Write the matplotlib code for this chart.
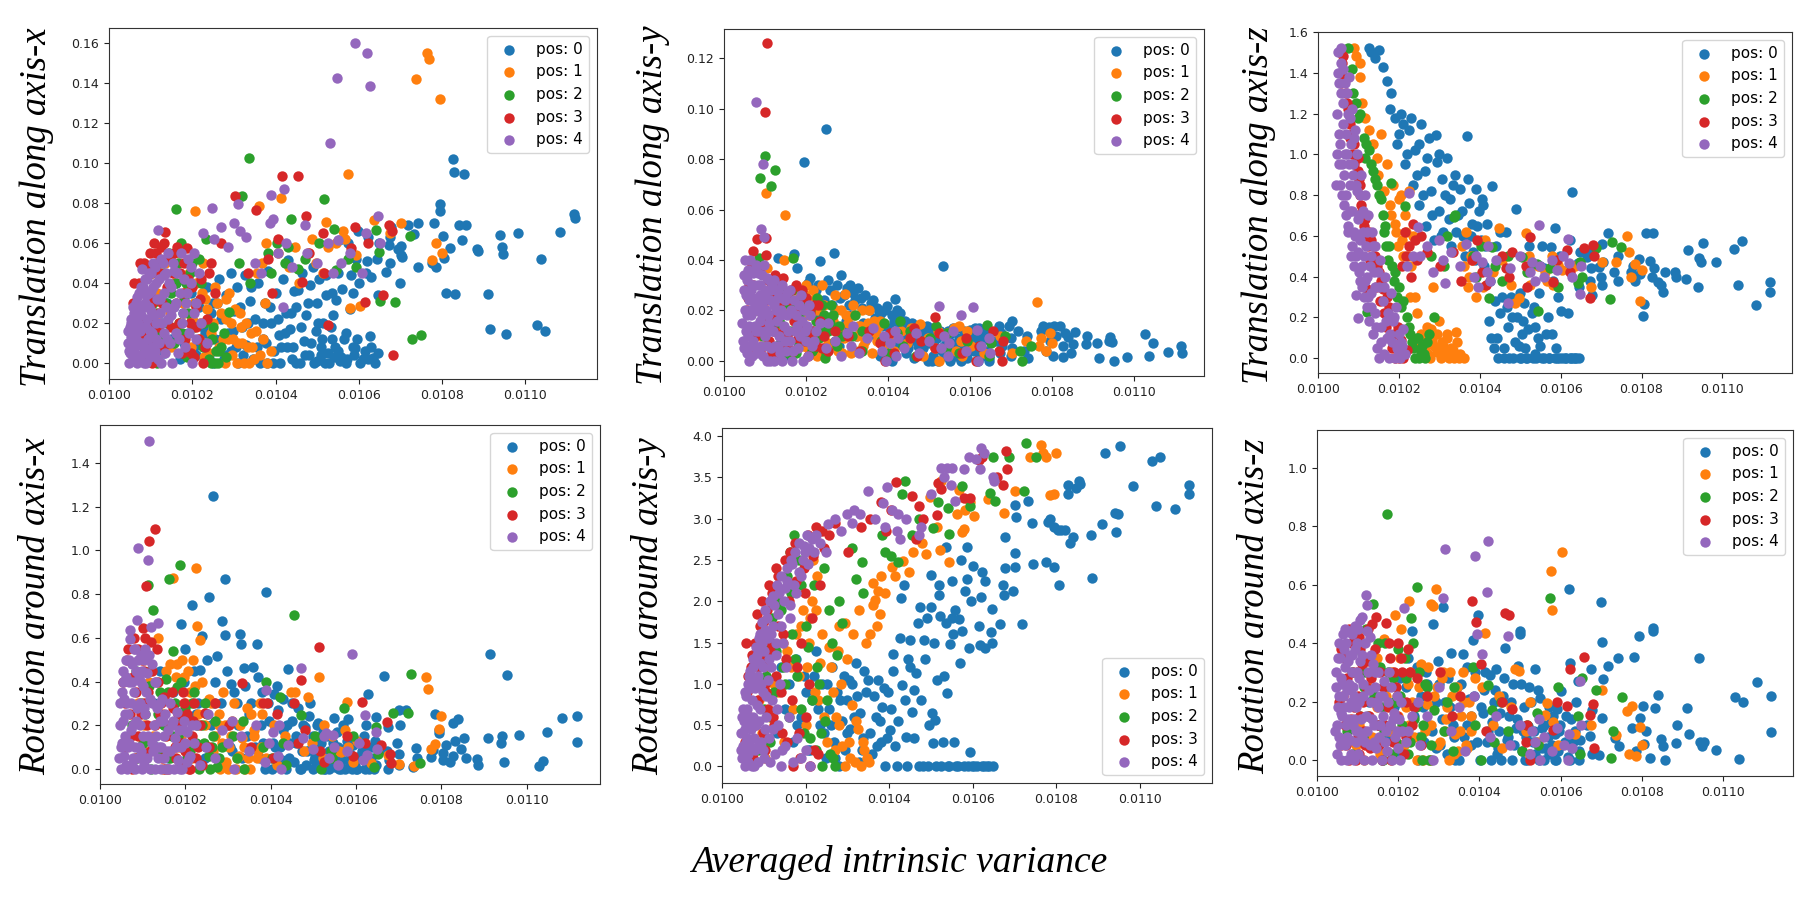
import matplotlib
matplotlib.use("Agg")
import matplotlib.pyplot as plt
from matplotlib.ticker import MultipleLocator, FormatStrFormatter

# -- averaged intrinsic variance of each sample, per camera position (same samples in all panels) --
var_pos0 = [0.010127, 0.010132, 0.010140, 0.010150, 0.010160, 0.010170, 0.010178, 0.010190, 0.010196, 0.010205,
            0.010215, 0.010225, 0.010235, 0.010240, 0.010249, 0.010255, 0.010264, 0.010268, 0.010275, 0.010280,
            0.010286, 0.010292, 0.010294, 0.010300, 0.010307, 0.010310, 0.010320, 0.010327, 0.010330, 0.010338,
            0.010345, 0.010350, 0.010359, 0.010369, 0.010374, 0.010380, 0.010383, 0.010390, 0.010397, 0.010402,
            0.010409, 0.010410, 0.010418, 0.010426, 0.010428, 0.010430, 0.010435, 0.010440, 0.010445, 0.010449,
            0.010454, 0.010459, 0.010464, 0.010468, 0.010473, 0.010480, 0.010482, 0.010490, 0.010496, 0.010499,
            0.010500, 0.010505, 0.010510, 0.010515, 0.010518, 0.010520, 0.010522, 0.010525,
            0.010535, 0.010536, 0.010537, 0.010540, 0.010546, 0.010549, 0.010550, 0.010553, 0.010555, 0.010560,
            0.010568, 0.010572, 0.010575, 0.010578, 0.010582, 0.010585, 0.010587, 0.010591, 0.010593, 0.010598,
            0.010600, 0.010610, 0.010618, 0.010620, 0.010622, 0.010626, 0.010629, 0.010635, 0.010643, 0.010645,
            0.010648, 0.010665, 0.010672, 0.010674, 0.010676, 0.010678, 0.010695, 0.010700, 0.010701, 0.010702,
            0.010704, 0.010717, 0.010733, 0.010741, 0.010743,
            0.010775, 0.010780, 0.010785, 0.010794, 0.010795, 0.010803, 0.010805, 0.010810, 0.010820, 0.010827,
            0.010828, 0.010832, 0.010840, 0.010847, 0.010853, 0.010857, 0.010883, 0.010886, 0.010910, 0.010915,
            0.010940, 0.010943, 0.010947, 0.010953, 0.010983, 0.011028, 0.011038, 0.011048, 0.011083, 0.011117,
            0.011118,
            0.010180, 0.010200, 0.010210, 0.010220, 0.010230, 0.010245, 0.010250, 0.010260, 0.010270, 0.010283,
            0.010298, 0.010304, 0.010315, 0.010323, 0.010334, 0.010340, 0.010355, 0.010363, 0.010370, 0.010378,
            0.010387, 0.010394, 0.010405, 0.010414, 0.010422, 0.010438, 0.010442, 0.010450, 0.010460, 0.010470,
            0.010477, 0.010486, 0.010493, 0.010502, 0.010508, 0.010512, 0.010528, 0.010532, 0.010543, 0.010558,
            0.010564, 0.010570, 0.010588, 0.010596, 0.010603, 0.010614, 0.010623, 0.010630, 0.010638, 0.010646]
var_pos1 = [0.010088, 0.010095, 0.010103, 0.010104, 0.010108, 0.010115, 0.010125, 0.010135, 0.010147, 0.010148,
            0.010155, 0.010164, 0.010170, 0.010178, 0.010185, 0.010193, 0.010200, 0.010207, 0.010215, 0.010223,
            0.010226, 0.010227, 0.010235, 0.010245, 0.010255, 0.010265, 0.010270, 0.010278, 0.010281, 0.010285,
            0.010294, 0.010295, 0.010303, 0.010310, 0.010318, 0.010325, 0.010333, 0.010340, 0.010348,
            0.010355, 0.010360, 0.010367, 0.010374, 0.010378, 0.010407, 0.010414, 0.010433, 0.010447, 0.010456,
            0.010478, 0.010487, 0.010497, 0.010514, 0.010522, 0.010525, 0.010544, 0.010561, 0.010566, 0.010575,
            0.010578, 0.010582, 0.010593, 0.010603, 0.010636, 0.010674, 0.010702, 0.010737, 0.010764, 0.010768,
            0.010775, 0.010785, 0.010795, 0.010800,
            0.010180, 0.010190, 0.010198, 0.010204, 0.010210, 0.010218, 0.010230, 0.010240, 0.010250, 0.010260,
            0.010273, 0.010280, 0.010288, 0.010299, 0.010307, 0.010314, 0.010320, 0.010328, 0.010337, 0.010344,
            0.010352, 0.010362, 0.010370, 0.010380, 0.010390]
var_pos2 = [0.010075, 0.010085, 0.010087, 0.010095, 0.010100, 0.010113, 0.010115, 0.010120, 0.010125, 0.010137,
            0.010145, 0.010155, 0.010160, 0.010162, 0.010168, 0.010172, 0.010180, 0.010188, 0.010195, 0.010205,
            0.010216, 0.010225, 0.010232, 0.010240, 0.010247, 0.010255, 0.010265, 0.010275, 0.010287,
            0.010312, 0.010320, 0.010336, 0.010338, 0.010383, 0.010390, 0.010404, 0.010422, 0.010430, 0.010437,
            0.010454, 0.010470, 0.010504, 0.010517, 0.010541, 0.010544, 0.010573, 0.010594, 0.010642, 0.010648,
            0.010652, 0.010687, 0.010723, 0.010728, 0.010750,
            0.010105, 0.010118, 0.010130, 0.010140, 0.010150, 0.010165, 0.010175, 0.010184, 0.010190, 0.010200,
            0.010210, 0.010220, 0.010228, 0.010236, 0.010244, 0.010250, 0.010258, 0.010262, 0.010270, 0.010280]
var_pos3 = [0.010055, 0.010060, 0.010066, 0.010070, 0.010075, 0.010080, 0.010085, 0.010090, 0.010099, 0.010100,
            0.010102, 0.010103, 0.010104, 0.010107, 0.010110, 0.010115, 0.010120, 0.010125, 0.010130, 0.010135,
            0.010140, 0.010146, 0.010150, 0.010155, 0.010160, 0.010170, 0.010175, 0.010180, 0.010187, 0.010195,
            0.010200, 0.010205, 0.010210, 0.010215, 0.010220, 0.010225, 0.010235, 0.010245, 0.010255, 0.010270,
            0.010302, 0.010333, 0.010353, 0.010381, 0.010392, 0.010405, 0.010415, 0.010455, 0.010464, 0.010472,
            0.010480, 0.010514, 0.010516, 0.010525, 0.010580, 0.010592, 0.010615, 0.010622, 0.010658, 0.010672,
            0.010679, 0.010682,
            0.010058, 0.010063, 0.010072, 0.010078, 0.010083, 0.010088, 0.010095, 0.010105, 0.010113, 0.010118,
            0.010123, 0.010128, 0.010133, 0.010143, 0.010153, 0.010163, 0.010168, 0.010178, 0.010183, 0.010190,
            0.010198, 0.010208, 0.010218, 0.010230, 0.010240]
var_pos4 = [0.010045, 0.010048, 0.010050, 0.010051, 0.010052, 0.010055, 0.010058, 0.010060, 0.010061, 0.010063,
            0.010065, 0.010068, 0.010070, 0.010071, 0.010072, 0.010075, 0.010078, 0.010080, 0.010081, 0.010082,
            0.010085, 0.010087, 0.010090, 0.010091, 0.010092, 0.010094, 0.010096, 0.010098, 0.010100, 0.010101,
            0.010103, 0.010106, 0.010110, 0.010111, 0.010113, 0.010115, 0.010118, 0.010120, 0.010121, 0.010123,
            0.010126, 0.010130, 0.010131, 0.010133, 0.010135, 0.010138, 0.010141, 0.010142, 0.010146, 0.010150,
            0.010151, 0.010153, 0.010155, 0.010160, 0.010163, 0.010165, 0.010170, 0.010173, 0.010175, 0.010180,
            0.010183, 0.010185, 0.010190, 0.010193, 0.010196, 0.010200, 0.010203, 0.010205, 0.010210, 0.010215,
            0.010225, 0.010248, 0.010253, 0.010270, 0.010285, 0.010300, 0.010310, 0.010315, 0.010330, 0.010350,
            0.010365, 0.010386, 0.010390, 0.010395, 0.010406, 0.010418, 0.010420, 0.010425, 0.010440, 0.010470,
            0.010475, 0.010500, 0.010525, 0.010530, 0.010537, 0.010547, 0.010549, 0.010558, 0.010578, 0.010590,
            0.010607, 0.010617, 0.010620, 0.010627, 0.010647, 0.010650,
            0.010046, 0.010049, 0.010053, 0.010054, 0.010056, 0.010057, 0.010059, 0.010062, 0.010064, 0.010066,
            0.010067, 0.010069, 0.010073, 0.010074, 0.010076, 0.010077, 0.010079, 0.010083, 0.010084, 0.010086,
            0.010088, 0.010089, 0.010093, 0.010095, 0.010097, 0.010099, 0.010102, 0.010104, 0.010105, 0.010108,
            0.010112, 0.010114, 0.010117, 0.010122, 0.010124, 0.010128, 0.010132, 0.010136, 0.010140, 0.010144,
            0.010148, 0.010156, 0.010162, 0.010168, 0.010178, 0.010188, 0.010198, 0.010208, 0.010220, 0.010235]

# -- translation along axis-x --
tx_pos0 = [0.02, 0.005, 0.03, 0.012, 0.04, 0.002, 0.025, 0.015, 0.035, 0.008, 0.028, 0.018, 0.038, 0.004, 0.03,
           0.012, 0.042, 0.022, 0.002, 0.034, 0.015, 0.045, 0.006, 0.026, 0.038, 0.0, 0.018, 0.044, 0.009, 0.031,
           0.002, 0.022, 0.04, 0.012, 0.03, 0.0, 0.046, 0.02, 0.006, 0.035, 0.014, 0.0, 0.042, 0.025, 0.008,
           0.0515, 0.017, 0.002, 0.036, 0.028, 0.0365, 0.0, 0.045, 0.011, 0.024, 0.004, 0.039, 0.048, 0.016, 0.001,
           0.030, 0.042, 0.008, 0.020, 0.0, 0.034, 0.044, 0.005,
           0.035, 0.012, 0.024, 0.003, 0.0315, 0.045, 0.006, 0.0615, 0.001, 0.037, 0.015, 0.002, 0.060, 0.027,
           0.044, 0.008, 0.035, 0.0077, 0.052, 0.066, 0.040, 0.002, 0.045, 0.051, 0.063, 0.0135, 0.043, 0.0025,
           0.052, 0.034, 0.060, 0.0457, 0.059, 0.050, 0.063, 0.068, 0.057, 0.040, 0.054, 0.0585, 0.053, 0.069,
           0.0645, 0.070, 0.048,
           0.050, 0.070, 0.048, 0.0795, 0.076, 0.0637, 0.0525, 0.0348, 0.0573, 0.1018, 0.0957, 0.0343, 0.069,
           0.0615, 0.0943, 0.069, 0.057, 0.056, 0.0345, 0.0168, 0.064, 0.058, 0.0545, 0.0143, 0.0648, 0.019,
           0.052, 0.016, 0.0657, 0.0743, 0.0723,
           0.01, 0.022, 0.004, 0.032, 0.015, 0.025, 0.0, 0.03, 0.012, 0.004, 0.016, 0.008, 0.028, 0.004, 0.02,
           0.038, 0.008, 0.0, 0.02, 0.01, 0.028, 0.0, 0.022, 0.008, 0.015, 0.025, 0.008, 0.0, 0.018, 0.004, 0.03,
           0.01, 0.0, 0.02, 0.004, 0.012, 0.0, 0.018, 0.008, 0.003, 0.012, 0.0, 0.004, 0.012, 0.0, 0.006, 0.002,
           0.008, 0.0, 0.005]
tx_pos1 = [0.03, 0.01, 0.045, 0.02, 0.005, 0.035, 0.015, 0.05, 0.025, 0.008, 0.04, 0.018, 0.055, 0.03, 0.006,
           0.045, 0.022, 0.076, 0.012, 0.035, 0.05, 0.003, 0.027, 0.015, 0.038, 0.008, 0.025, 0.0, 0.032, 0.012,
           0.02, 0.004, 0.027, 0.01, 0.018, 0.0, 0.008, 0.015, 0.002,
           0.045, 0.0785, 0.05, 0.03, 0.06, 0.055, 0.0823, 0.048, 0.058, 0.04, 0.055, 0.062, 0.05, 0.045, 0.0707,
           0.058, 0.06, 0.066, 0.062, 0.0943, 0.0273, 0.055, 0.054, 0.0285, 0.0715, 0.065, 0.070, 0.142, 0.155,
           0.152, 0.0515, 0.06, 0.132, 0.055,
           0.025, 0.038, 0.008, 0.03, 0.04, 0.02, 0.032, 0.005, 0.02, 0.03, 0.012, 0.022, 0.035, 0.012, 0.0, 0.025,
           0.01, 0.02, 0.0, 0.008, 0.016, 0.004, 0.012, 0.0, 0.006]
tx_pos2 = [0.02, 0.005, 0.035, 0.012, 0.045, 0.025, 0.0, 0.05, 0.015, 0.03, 0.055, 0.01, 0.077, 0.04, 0.02,
           0.06, 0.033, 0.003, 0.045, 0.018, 0.052, 0.008, 0.062, 0.002, 0.012, 0.0, 0.006, 0.015, 0.0257,
           0.05, 0.0835, 0.1023, 0.04, 0.055, 0.045, 0.06, 0.05, 0.058, 0.072, 0.047, 0.052, 0.06, 0.0818, 0.0672,
           0.0465, 0.052, 0.048, 0.0665, 0.0553, 0.031, 0.0307, 0.0635, 0.012, 0.014,
           0.03, 0.012, 0.045, 0.02, 0.035, 0.05, 0.015, 0.04, 0.025, 0.05, 0.03, 0.04, 0.02, 0.01, 0.0, 0.018,
           0.006, 0.0, 0.008, 0.003]
tx_pos3 = [0.01, 0.04, 0.025, 0.002, 0.05, 0.015, 0.035, 0.005, 0.055, 0.02, 0.045, 0.0, 0.03, 0.06, 0.012,
           0.05, 0.025, 0.058, 0.008, 0.0653, 0.038, 0.052, 0.018, 0.055, 0.03, 0.045, 0.005, 0.05, 0.0573, 0.02,
           0.038, 0.003, 0.028, 0.012, 0.042, 0.0, 0.022, 0.05, 0.035, 0.06,
           0.0835, 0.045, 0.0765, 0.052, 0.035, 0.062, 0.0935, 0.0935, 0.0407, 0.0735, 0.055, 0.0648, 0.045,
           0.019, 0.0573, 0.068, 0.0307, 0.06, 0.034, 0.069, 0.066, 0.0038,
           0.03, 0.015, 0.04, 0.022, 0.05, 0.012, 0.048, 0.032, 0.055, 0.018, 0.045, 0.03, 0.06, 0.01, 0.045,
           0.058, 0.02, 0.035, 0.012, 0.042, 0.005, 0.018, 0.032, 0.008, 0.045]
tx_pos4 = [0.01, 0.0, 0.018, 0.005, 0.022, 0.012, 0.002, 0.025, 0.015, 0.008, 0.03, 0.0, 0.02, 0.035, 0.01,
           0.028, 0.004, 0.047, 0.018, 0.038, 0.008, 0.03, 0.0, 0.042, 0.022, 0.012, 0.035, 0.003, 0.045, 0.026,
           0.015, 0.038, 0.006, 0.048, 0.02, 0.032, 0.0665, 0.01, 0.042, 0.025, 0.0, 0.05, 0.015, 0.035, 0.005,
           0.045, 0.022, 0.055, 0.01, 0.038, 0.0, 0.05, 0.028, 0.015, 0.045, 0.005, 0.035, 0.055, 0.02, 0.042,
           0.008, 0.03, 0.052, 0.015, 0.04, 0.0, 0.025, 0.055, 0.012, 0.045,
           0.065, 0.0777, 0.062, 0.068, 0.058, 0.07, 0.0795, 0.066, 0.063, 0.05, 0.045, 0.07, 0.084, 0.072, 0.055,
           0.028, 0.087, 0.06, 0.048, 0.069, 0.055, 0.05, 0.06, 0.110, 0.045, 0.1423, 0.0615, 0.05, 0.055, 0.1598,
           0.045, 0.065, 0.155, 0.1385, 0.0735, 0.06,
           0.016, 0.006, 0.013, 0.02, 0.006, 0.028, 0.018, 0.004, 0.022, 0.012, 0.033, 0.026, 0.004, 0.016, 0.038,
           0.024, 0.01, 0.028, 0.0, 0.042, 0.018, 0.034, 0.006, 0.028, 0.045, 0.016, 0.036, 0.008, 0.05, 0.024,
           0.012, 0.04, 0.002, 0.032, 0.052, 0.02, 0.044, 0.028, 0.012, 0.04, 0.024, 0.046, 0.03, 0.012, 0.025,
           0.035, 0.048, 0.03, 0.02, 0.01]

# -- translation along axis-y --
ty_pos0 = [0.015, 0.0407, 0.008, 0.025, 0.002, 0.0424, 0.037, 0.02, 0.0788, 0.031, 0.012, 0.028, 0.0397, 0.018,
           0.092, 0.032, 0.022, 0.0427, 0.03, 0.006, 0.0341, 0.026, 0.014, 0.029, 0.03, 0.018, 0.024, 0.029, 0.004,
           0.021, 0.026, 0.012, 0.023, 0.017, 0.021, 0.002, 0.019, 0.009, 0.0217, 0.013, 0.018, 0.0, 0.0247, 0.007,
           0.015, 0.019, 0.01, 0.014, 0.003, 0.012, 0.008, 0.015, 0.001, 0.011, 0.006, 0.013, 0.003, 0.009, 0.014,
           0.0, 0.007, 0.011, 0.002, 0.013, 0.005, 0.009, 0.0, 0.012,
           0.0377, 0.006, 0.010, 0.002, 0.012, 0.004, 0.008, 0.0, 0.011, 0.005, 0.013, 0.002, 0.009, 0.0, 0.006,
           0.012, 0.003, 0.010, 0.001, 0.007, 0.0124, 0.004, 0.009, 0.0, 0.013, 0.006, 0.002, 0.010, 0.004, 0.012,
           0.001, 0.008, 0.014, 0.003, 0.011, 0.006, 0.0137, 0.002, 0.009, 0.016, 0.005, 0.012, 0.004, 0.010,
           0.001,
           0.012, 0.014, 0.004, 0.0135, 0.008, 0.002, 0.014, 0.010, 0.014, 0.006, 0.0015, 0.011, 0.0095, 0.003,
           0.0065, 0.0115, 0.0065, 0.0097, 0.0069, 0.001, 0.008, 0.0095, 0.0075, 0.0, 0.0015, 0.0108, 0.002,
           0.007, 0.0037, 0.0057, 0.0032,
           0.028, 0.022, 0.033, 0.018, 0.03, 0.024, 0.012, 0.028, 0.02, 0.025, 0.016, 0.022, 0.027, 0.01, 0.025,
           0.015, 0.02, 0.024, 0.01, 0.018, 0.014, 0.02, 0.008, 0.016, 0.02, 0.012, 0.016, 0.005, 0.012, 0.009,
           0.014, 0.005, 0.011, 0.013, 0.0, 0.008, 0.012, 0.004, 0.009, 0.013, 0.002, 0.007, 0.011, 0.004, 0.009,
           0.013, 0.003, 0.008, 0.012, 0.0]
ty_pos1 = [0.01, 0.025, 0.0664, 0.0368, 0.015, 0.005, 0.03, 0.012, 0.04, 0.0577, 0.02, 0.003, 0.028, 0.014,
           0.022, 0.006, 0.03, 0.018, 0.01, 0.025, 0.002, 0.02, 0.012, 0.022, 0.007, 0.016, 0.026, 0.004, 0.013,
           0.02, 0.009, 0.0264, 0.015, 0.003, 0.018, 0.01, 0.014, 0.006, 0.012,
           0.02, 0.012, 0.016, 0.008, 0.014, 0.01, 0.004, 0.012, 0.007, 0.013, 0.0147, 0.002, 0.009, 0.005, 0.012,
           0.0, 0.011, 0.013, 0.004, 0.014, 0.008, 0.002, 0.012, 0.006, 0.003, 0.01, 0.003, 0.008, 0.0235, 0.006,
           0.009, 0.004, 0.011, 0.007,
           0.02, 0.012, 0.026, 0.005, 0.018, 0.028, 0.01, 0.03, 0.016, 0.006, 0.02, 0.012, 0.003, 0.018, 0.01,
           0.022, 0.004, 0.014, 0.02, 0.008, 0.015, 0.003, 0.011, 0.016, 0.006]
ty_pos2 = [0.02, 0.0407, 0.0724, 0.01, 0.0812, 0.025, 0.0693, 0.005, 0.0757, 0.015, 0.028, 0.003, 0.022, 0.012,
           0.0407, 0.018, 0.007, 0.024, 0.014, 0.02, 0.004, 0.016, 0.009, 0.022, 0.001, 0.012, 0.018, 0.006, 0.01,
           0.01, 0.018, 0.004, 0.012, 0.008, 0.015, 0.003, 0.011, 0.016, 0.006, 0.012, 0.002, 0.009, 0.014, 0.005,
           0.011, 0.003, 0.008, 0.0141, 0.002, 0.007, 0.01, 0.004, 0.0, 0.006,
           0.015, 0.03, 0.006, 0.022, 0.012, 0.028, 0.003, 0.018, 0.026, 0.01, 0.02, 0.005, 0.025, 0.012, 0.018,
           0.003, 0.015, 0.022, 0.008, 0.014]
ty_pos3 = [0.02, 0.03, 0.037, 0.0437, 0.01, 0.0484, 0.025, 0.005, 0.0987, 0.015, 0.0489, 0.042, 0.126, 0.032,
           0.008, 0.028, 0.018, 0.034, 0.003, 0.022, 0.03, 0.012, 0.026, 0.006, 0.024, 0.016, 0.03, 0.009, 0.021,
           0.014, 0.025, 0.002, 0.019, 0.011, 0.022, 0.006, 0.016, 0.01, 0.004, 0.012,
           0.01, 0.004, 0.012, 0.007, 0.0, 0.011, 0.003, 0.009, 0.013, 0.002, 0.008, 0.0173, 0.005, 0.011, 0.003,
           0.009, 0.0, 0.006, 0.012, 0.004, 0.0, 0.008,
           0.025, 0.012, 0.03, 0.005, 0.02, 0.035, 0.015, 0.024, 0.002, 0.03, 0.012, 0.025, 0.018, 0.033, 0.01,
           0.028, 0.004, 0.024, 0.015, 0.028, 0.008, 0.02, 0.012, 0.022, 0.005]
ty_pos4 = [0.015, 0.028, 0.005, 0.02, 0.04, 0.032, 0.01, 0.024, 0.0, 0.04, 0.018, 0.03, 0.008, 0.025, 0.035,
           0.014, 0.1028, 0.02, 0.003, 0.03, 0.012, 0.026, 0.0524, 0.006, 0.034, 0.018, 0.078, 0.0493, 0.01,
           0.028, 0.02, 0.0, 0.032, 0.015, 0.024, 0.005, 0.03, 0.012, 0.022, 0.0, 0.028, 0.016, 0.006, 0.025,
           0.01, 0.02, 0.0, 0.03, 0.014, 0.024, 0.004, 0.018, 0.027, 0.008, 0.02, 0.0, 0.024, 0.012, 0.018, 0.005,
           0.022, 0.01, 0.016, 0.0, 0.02, 0.008, 0.014, 0.002, 0.018, 0.006,
           0.012, 0.005, 0.015, 0.008, 0.002, 0.011, 0.006, 0.014, 0.003, 0.009, 0.013, 0.004, 0.01, 0.0, 0.007,
           0.012, 0.002, 0.009, 0.005, 0.011, 0.003, 0.008, 0.0217, 0.005, 0.01, 0.002, 0.007, 0.012, 0.018,
           0.004, 0.0213, 0.0124, 0.0, 0.006, 0.009, 0.003,
           0.008, 0.034, 0.012, 0.026, 0.003, 0.018, 0.036, 0.014, 0.006, 0.028, 0.02, 0.002, 0.03, 0.006, 0.022,
           0.038, 0.012, 0.024, 0.035, 0.004, 0.016, 0.03, 0.022, 0.002, 0.038, 0.012, 0.025, 0.033, 0.006, 0.018,
           0.0, 0.028, 0.012, 0.032, 0.006, 0.02, 0.028, 0.003, 0.018, 0.025, 0.008, 0.012, 0.028, 0.004, 0.014,
           0.026, 0.012, 0.022, 0.008, 0.015]

# -- translation along axis-z --
tz_pos0 = [1.52, 1.50, 1.47, 1.51, 1.43, 1.36, 1.22, 1.18, 1.05, 1.20, 0.95, 1.12, 0.85, 1.02, 0.75, 1.15, 0.92,
           0.65, 1.08, 0.82, 0.58, 1.094, 0.96, 0.72, 0.88, 0.62, 0.98, 0.78, 0.55, 0.90, 0.70, 0.83, 0.60, 1.089,
           0.76, 0.66, 0.52, 0.828, 0.72, 0.58, 0.75, 0.45, 0.66, 0.38, 0.10, 0.844, 0.05, 0.55, 0.0, 0.62, 0.30,
           0.0, 0.62, 0.25, 0.0, 0.20, 0.0, 0.73, 0.057, 0.32, 0.0, 0.12, 0.27, 0.0, 0.0, 0.14, 0.55, 0.45,
           0.25, 0.02, 0.15, 0.0, 0.32, 0.45, 0.06, 0.55, 0.0, 0.444, 0.2, 0.0, 0.544, 0.12, 0.38, 0.0, 0.637, 0.0,
           0.30, 0.50, 0.229, 0.0, 0.22, 0.43, 0.58, 0.0, 0.816, 0.0, 0.465, 0.35, 0.52, 0.498, 0.38, 0.44, 0.53,
           0.31, 0.447, 0.40, 0.36, 0.56, 0.47, 0.616, 0.42, 0.50, 0.38,
           0.42, 0.45, 0.38, 0.485, 0.41, 0.204, 0.266, 0.616, 0.478, 0.40, 0.616, 0.44, 0.375, 0.36, 0.322, 0.42,
           0.424, 0.40, 0.387, 0.531, 0.348, 0.49, 0.47, 0.563, 0.473, 0.534, 0.359, 0.576, 0.261, 0.375, 0.322,
           1.3, 1.1, 1.15, 1.0, 1.18, 0.9, 1.05, 0.8, 0.98, 0.7, 1.0, 0.6, 0.8, 0.68, 0.85, 0.62, 0.72, 0.5, 0.88,
           0.6, 0.48, 0.65, 0.78, 0.55, 0.18, 0.28, 0.1, 0.22, 0.05, 0.15, 0.3, 0.08, 0.2, 0.0, 0.18, 0.05, 0.22,
           0.0, 0.1, 0.0, 0.12, 0.0, 0.05, 0.0, 0.0, 0.0, 0.0, 0.0, 0.0, 0.0]
tz_pos1 = [1.52, 1.48, 1.45, 1.38, 1.25, 1.18, 1.12, 1.05, 0.98, 0.9, 1.1, 0.82, 0.95, 0.75, 0.85, 0.62, 0.78,
           0.58, 0.7, 0.5, 0.82, 0.3, 0.6, 0.22, 0.12, 0.05, 0.15, 0.0, 0.09, 0.35, 0.03, 0.12, 0.0, 0.06, 0.1,
           0.0, 0.04, 0.13, 0.0,
           0.55, 0.45, 0.62, 0.4, 0.5, 0.35, 0.58, 0.42, 0.64, 0.48, 0.36, 0.272, 0.294, 0.616, 0.5, 0.359, 0.45,
           0.42, 0.38, 0.449, 0.5, 0.36, 0.457, 0.43, 0.45, 0.351, 0.47, 0.473, 0.599, 0.522, 0.4, 0.46, 0.278,
           0.43,
           0.7, 0.66, 0.55, 0.8, 0.5, 0.62, 0.45, 0.3, 0.05, 0.1, 0.02, 0.14, 0.06, 0.18, 0.08, 0.02, 0.12, 0.05,
           0.0, 0.08, 0.02, 0.0, 0.35, 0.48, 0.3]
tz_pos2 = [1.52, 1.42, 1.3, 1.25, 1.18, 1.08, 0.98, 0.224, 1.02, 0.92, 0.85, 0.78, 0.7, 0.62, 0.55, 0.48, 0.857,
           0.38, 0.3, 0.25, 0.746, 0.15, 0.08, 0.0, 0.1, 0.03, 0.0, 0.12, 0.2,
           0.45, 0.6, 0.69, 0.702, 0.5, 0.4, 0.55, 0.294, 0.547, 0.45, 0.38, 0.5, 0.498, 0.42, 0.46, 0.229, 0.44,
           0.35, 0.367, 0.47, 0.4, 0.539, 0.289, 0.571, 0.547,
           1.2, 1.05, 0.95, 0.88, 0.8, 0.65, 0.55, 0.45, 0.42, 0.35, 0.28, 0.2, 0.12, 0.05, 0.1, 0.0, 0.06, 0.02,
           0.08, 0.5]
tz_pos3 = [1.5, 1.45, 1.38, 1.3, 1.22, 1.15, 1.1, 1.05, 0.98, 0.92, 0.88, 0.85, 0.8, 0.75, 0.72, 0.68, 0.338,
           0.62, 0.58, 0.55, 0.5, 0.45, 0.42, 0.38, 0.34, 0.3, 0.25, 0.2, 0.12, 0.05, 0.0, 0.09, 0.0, 0.62, 0.04,
           0.55, 0.66, 0.48, 0.6, 0.52,
           0.45, 0.52, 0.38, 0.48, 0.58, 0.42, 0.36, 0.5, 0.44, 0.4, 0.52, 0.45, 0.35, 0.596, 0.371, 0.48, 0.531,
           0.42, 0.542, 0.297, 0.555, 0.5,
           1.35, 1.48, 1.25, 1.08, 1.0, 0.95, 0.9, 0.7, 0.65, 0.6, 0.55, 0.48, 0.45, 0.35, 0.28, 0.22, 0.15, 0.1,
           0.05, 0.0, 0.15, 0.45, 0.5, 0.4, 0.58]
tz_pos4 = [0.85, 1.2, 1.5, 0.95, 1.35, 1.05, 1.52, 0.8, 1.25, 1.42, 0.9, 1.1, 0.7, 1.3, 1.0, 0.62, 1.18, 0.85,
           0.5, 1.05, 0.72, 0.95, 0.45, 1.12, 0.6, 0.307, 0.82, 0.196, 0.52, 0.7, 0.38, 0.9, 0.45, 0.62, 0.3, 0.8,
           0.55, 0.25, 0.4, 0.7, 0.18, 0.5, 0.32, 0.62, 0.12, 0.42, 0.22, 0.55, 0.05, 0.35, 0.0, 0.48, 0.15, 0.28,
           0.02, 0.4, 0.1, 0.22, 0.0, 0.32, 0.08, 0.18, 0.0, 0.25, 0.05, 0.12, 0.0, 0.08, 0.14, 0.02,
           0.81, 0.645, 0.5, 0.55, 0.42, 0.58, 0.48, 0.37, 0.52, 0.45, 0.56, 0.4, 0.5, 0.35, 0.47, 0.42, 0.55,
           0.38, 0.48, 0.27, 0.44, 0.5, 0.42, 0.47, 0.38, 0.653, 0.45, 0.4, 0.48, 0.43, 0.5, 0.583, 0.465, 0.4,
           0.313, 0.45,
           1.0, 1.4, 1.1, 0.85, 1.3, 1.45, 0.95, 1.15, 0.75, 1.35, 1.0, 0.8, 1.2, 0.65, 0.95, 1.38, 0.72, 1.22,
           0.55, 0.9, 1.08, 0.62, 0.85, 0.5, 1.0, 0.68, 0.42, 0.8, 0.58, 0.35, 0.72, 0.5, 0.38, 0.62, 0.3, 0.45,
           0.25, 0.55, 0.35, 0.15, 0.42, 0.08, 0.35, 0.18, 0.12, 0.2, 0.04, 0.06, 0.45, 0.5]

# -- rotation around axis-x --
rx_pos0 = [0.3, 0.1, 0.45, 0.2, 0.05, 0.35, 0.15, 0.665, 0.4, 0.05, 0.748, 0.25, 0.452, 0.607, 0.1, 0.787, 1.25,
           0.3, 0.515, 0.02, 0.676, 0.611, 0.867, 0.2, 0.39, 0.08, 0.3, 0.619, 0.574, 0.46, 0.15, 0.25, 0.467,
           0.573, 0.05, 0.35, 0.12, 0.81, 0.22, 0.0, 0.345, 0.1, 0.27, 0.04, 0.18, 0.32, 0.0, 0.458, 0.12, 0.22,
           0.03, 0.15, 0.28, 0.0, 0.08, 0.19, 0.02, 0.24, 0.1, 0.0, 0.15, 0.06, 0.21, 0.01, 0.12, 0.05, 0.17, 0.0,
           0.02, 0.08, 0.0, 0.05, 0.12, 0.231, 0.01, 0.06, 0.17, 0.0, 0.04, 0.09, 0.0, 0.13, 0.228, 0.02, 0.07,
           0.0, 0.11, 0.03, 0.0, 0.06, 0.15, 0.0, 0.10, 0.02, 0.343, 0.05, 0.0, 0.13, 0.236, 0.425, 0.08, 0.0,
           0.19, 0.04, 0.117, 0.27, 0.02, 0.067, 0.2, 0.27, 0.011, 0.094, 0.05,
           0.056, 0.087, 0.25, 0.178, 0.163, 0.04, 0.075, 0.11, 0.0335, 0.06, 0.21, 0.13, 0.228, 0.09, 0.14, 0.05,
           0.044, 0.02, 0.14, 0.527, 0.117, 0.15, 0.0335, 0.428, 0.155, 0.015, 0.038, 0.167, 0.231, 0.244, 0.122,
           0.2, 0.55, 0.1, 0.45, 0.3, 0.05, 0.5, 0.2, 0.4, 0.3, 0.45, 0.1, 0.35, 0.2, 0.05, 0.38, 0.3, 0.1, 0.42,
           0.2, 0.0, 0.3, 0.12, 0.38, 0.1, 0.2, 0.05, 0.3, 0.12, 0.0, 0.2, 0.08, 0.3, 0.04, 0.2, 0.1, 0.0, 0.15,
           0.05, 0.1, 0.0, 0.2, 0.05, 0.12, 0.0, 0.08, 0.2, 0.0, 0.1, 0.02]
rx_pos1 = [0.3, 0.1, 0.5, 0.2, 0.05, 0.4, 0.15, 0.6, 0.25, 0.0, 0.45, 0.48, 0.872, 0.42, 0.1, 0.5, 0.3, 0.45,
           0.05, 0.38, 0.921, 0.653, 0.588, 0.2, 0.32, 0.08, 0.15, 0.25, 0.0, 0.12, 0.2, 0.03, 0.1, 0.22, 0.0,
           0.06, 0.14, 0.0, 0.05,
           0.25, 0.15, 0.05, 0.3, 0.1, 0.2, 0.02, 0.15, 0.351, 0.35, 0.08, 0.33, 0.12, 0.42, 0.05, 0.2, 0.15, 0.08,
           0.079, 0.18, 0.307, 0.1, 0.03, 0.13, 0.026, 0.064, 0.021, 0.015, 0.42, 0.367, 0.09, 0.114, 0.181,
           0.242,
           0.48, 0.15, 0.42, 0.1, 0.35, 0.5, 0.25, 0.4, 0.1, 0.3, 0.05, 0.2, 0.35, 0.0, 0.15, 0.3, 0.05, 0.2, 0.1,
           0.28, 0.0, 0.18, 0.08, 0.25, 0.05]
rx_pos2 = [0.2, 0.45, 0.05, 0.3, 0.12, 0.841, 0.38, 0.0, 0.729, 0.25, 0.08, 0.41, 0.35, 0.867, 0.15, 0.54,
           0.376, 0.933, 0.22, 0.05, 0.3, 0.12, 0.0, 0.2, 0.3, 0.06, 0.15, 0.01, 0.1,
           0.15, 0.05, 0.22, 0.0, 0.1, 0.397, 0.05, 0.33, 0.12, 0.02, 0.706, 0.247, 0.15, 0.0, 0.08, 0.05, 0.277,
           0.15, 0.011, 0.193, 0.07, 0.254, 0.257, 0.435, 0.029,
           0.25, 0.45, 0.1, 0.35, 0.2, 0.05, 0.3, 0.15, 0.4, 0.28, 0.08, 0.35, 0.2, 0.02, 0.12, 0.25, 0.0, 0.1,
           0.22, 0.05]
rx_pos3 = [0.4, 0.1, 0.55, 0.25, 0.0, 0.6, 0.35, 0.15, 0.5, 0.645, 0.05, 0.3, 0.45, 0.836, 0.2, 1.042, 0.58,
           0.1, 1.10, 0.4, 0.25, 0.05, 0.33, 0.15, 0.0, 0.28, 0.1, 0.2, 0.02, 0.35, 0.08, 0.25, 0.0, 0.15, 0.3,
           0.05, 0.2, 0.254, 0.1, 0.3,
           0.2, 0.395, 0.1, 0.3, 0.3, 0.05, 0.25, 0.3, 0.12, 0.408, 0.18, 0.558, 0.08, 0.0335, 0.15, 0.06, 0.307,
           0.12, 0.11, 0.216, 0.07, 0.026,
           0.3, 0.5, 0.15, 0.42, 0.05, 0.55, 0.25, 0.6, 0.35, 0.08, 0.45, 0.2, 0.55, 0.3, 0.0, 0.2, 0.35, 0.05,
           0.25, 0.12, 0.3, 0.0, 0.22, 0.1, 0.02]
rx_pos4 = [0.05, 0.2, 0.0, 0.35, 0.12, 0.45, 0.25, 0.02, 0.5, 0.3, 0.1, 0.4, 0.634, 0.596, 0.18, 0.48, 0.05,
           0.35, 0.0, 0.55, 0.22, 0.68, 1.009, 0.42, 0.1, 0.3, 0.52, 0.0, 0.38, 0.15, 0.5, 0.25, 0.05, 0.44,
           0.956, 1.503, 0.32, 0.65, 0.12, 0.48, 0.2, 0.0, 0.4, 0.28, 0.668, 0.1, 0.22, 0.0, 0.32, 0.15, 0.05,
           0.25, 0.0, 0.18, 0.3, 0.08, 0.22, 0.0, 0.14, 0.26, 0.04, 0.18, 0.1, 0.0, 0.22, 0.12, 0.03, 0.17, 0.06,
           0.2,
           0.2, 0.1, 0.25, 0.05, 0.18, 0.12, 0.22, 0.0, 0.15, 0.08, 0.2, 0.03, 0.359, 0.12, 0.17, 0.06, 0.2, 0.0,
           0.11, 0.461, 0.14, 0.09, 0.15, 0.163, 0.05, 0.155, 0.1, 0.02, 0.08, 0.527, 0.12, 0.04, 0.247, 0.064,
           0.168, 0.09,
           0.3, 0.1, 0.22, 0.4, 0.06, 0.32, 0.15, 0.42, 0.0, 0.25, 0.5, 0.12, 0.3, 0.02, 0.4, 0.2, 0.55, 0.1, 0.45,
           0.28, 0.05, 0.5, 0.2, 0.4, 0.08, 0.45, 0.28, 0.02, 0.55, 0.35, 0.15, 0.52, 0.0, 0.3, 0.08, 0.4, 0.15,
           0.05, 0.3, 0.1, 0.22, 0.08, 0.0, 0.2, 0.1, 0.0, 0.18, 0.05, 0.12, 0.02]

# -- rotation around axis-y --
ry_pos0 = [0.9, 0.4, 1.2, 0.7, 1.0, 0.3, 1.3, 0.6, 1.1, 0.2, 0.8, 1.4, 0.5, 1.0, 0.1, 0.7, 1.2, 0.3, 0.9, 0.0,
           0.55, 1.1, 0.2, 0.8, 0.45, 1.0, 1.25, 0.05, 0.65, 0.35, 0.9, 1.05, 0.15, 0.6, 1.05, 0.3, 0.72, 0.0,
           0.9, 0.44, 1.36, 1.16, 0.0, 1.55, 2.04, 0.99, 2.2, 0.36, 1.3, 1.53, 0.66, 0.93, 1.13, 1.74, 1.93, 0.0,
           1.53, 1.8, 0.5, 1.93, 2.32, 0.28, 0.56, 1.05, 2.2, 2.08, 1.82, 0.0,
           1.74, 2.66, 0.89, 0.0, 1.48, 1.8, 2.24, 1.6, 0.3, 0.0, 1.79, 2.5, 1.64, 0.0, 2.13, 2.27, 2.66, 1.44,
           0.17, 0.0, 2.43, 0.0, 1.47, 2.05, 2.35, 0.0, 1.43, 0.0, 1.63, 1.91, 0.0, 1.72, 2.2, 2.07, 2.4, 2.78,
           2.12, 2.58, 2.42, 3.16, 3.02, 1.72, 3.21, 2.95, 2.45,
           2.47, 2.96, 3.0, 2.41, 2.9, 2.86, 2.2, 2.86, 2.86, 3.41, 3.3, 2.7, 2.78, 3.37, 3.45, 3.42, 2.8, 2.28,
           2.93, 3.8, 3.07, 2.84, 3.05, 3.88, 3.39, 3.7, 3.15, 3.75, 3.12, 3.41, 3.3,
           0.5, 0.9, 0.2, 1.1, 0.7, 0.4, 1.0, 0.5, 0.1, 0.8, 0.4, 1.05, 0.6, 0.85, 0.2, 1.15, 0.4, 0.85, 0.25,
           0.55, 0.95, 0.35, 0.7, 0.25, 0.55, 0.8, 0.0, 1.2, 0.35, 0.0, 0.8, 1.3, 0.0, 0.65, 1.5, 0.0, 0.3, 1.1,
           0.0, 1.9, 0.0, 1.25, 0.0, 2.0, 0.0, 1.7, 0.0, 2.25, 0.0, 1.5]
ry_pos1 = [0.8, 0.4, 1.2, 0.1, 1.3, 0.6, 1.0, 0.9, 1.5, 0.3, 1.4, 1.2, 0.7, 1.6, 1.1, 1.9, 0.5, 1.5, 2.0, 0.9,
           1.9, 2.3, 1.25, 0.6, 1.45, 0.9, 0.2, 1.4, 0.5, 1.0, 0.0, 1.74, 0.3, 0.75, 0.05, 0.45, 0.0, 0.2, 0.1,
           1.6, 2.22, 2.02, 2.13, 1.84, 2.42, 2.3, 2.49, 2.36, 2.6, 2.7, 2.57, 3.26, 2.9, 2.62, 3.46, 2.47, 3.05,
           3.35, 2.84, 2.88, 3.1, 3.2, 3.03, 3.24, 3.07, 3.34, 3.74, 3.89, 3.79, 3.75, 3.28, 3.3, 3.79,
           2.2, 1.7, 2.45, 1.2, 1.8, 2.5, 0.8, 1.6, 0.3, 1.2, 0.6, 1.7, 0.25, 1.3, 0.1, 1.6, 0.55, 1.9, 0.3, 1.5,
           0.05, 1.95, 1.7, 2.3, 2.1]
ry_pos2 = [0.5, 1.0, 0.2, 1.3, 0.7, 1.5, 0.3, 1.8, 0.9, 2.0, 1.2, 2.3, 0.6, 2.6, 1.6, 2.8, 1.1, 2.2, 0.4, 1.45,
           0.8, 0.2, 1.0, 0.0, 0.55, 1.9, 0.1, 1.35, 1.74,
           2.64, 2.27, 2.48, 2.1, 2.8, 2.6, 2.55, 2.48, 3.3, 3.46, 2.8, 3.0, 2.89, 3.2, 3.13, 2.81, 3.4, 3.15,
           3.31, 3.74, 3.21, 3.75, 3.33, 3.91, 3.75,
           1.1, 0.6, 1.4, 1.9, 1.0, 2.1, 1.3, 2.5, 0.7, 1.7, 0.35, 2.2, 1.2, 0.4, 2.4, 0.8, 0.15, 1.5, 0.0, 2.0]
ry_pos3 = [0.3, 0.9, 0.6, 1.2, 0.1, 1.5, 0.8, 1.7, 0.4, 1.76, 1.0, 1.3, 0.2, 1.9, 0.7, 1.4, 2.1, 0.5, 1.1, 2.3,
           0.9, 1.6, 2.5, 0.3, 2.0, 0.0, 2.7, 1.2, 0.1, 2.4, 0.6, 2.8, 0.0, 1.8, 0.2, 2.9, 2.2, 2.65, 2.8, 2.95,
           2.6, 2.9, 3.0, 3.2, 2.85, 3.1, 3.44, 3.27, 2.75, 3.15, 3.0, 3.04, 3.43, 3.36, 3.25, 3.25, 3.71, 3.75,
           3.5, 3.41, 3.82, 3.6,
           1.5, 1.1, 1.35, 0.5, 1.85, 1.2, 2.0, 0.9, 2.2, 1.5, 0.6, 2.4, 1.7, 0.4, 1.3, 2.6, 0.8, 2.25, 0.4, 1.5,
           2.1, 1.0, 2.55, 0.15, 2.85]
ry_pos4 = [0.4, 0.1, 0.7, 0.25, 0.55, 0.0, 0.85, 0.35, 1.0, 0.15, 0.6, 1.15, 0.45, 0.0, 0.8, 1.3, 0.2, 0.95,
           1.45, 0.5, 1.1, 0.05, 1.6, 0.7, 1.25, 0.3, 1.75, 0.9, 1.4, 0.1, 1.9, 0.6, 1.55, 1.05, 0.35, 2.0, 1.2,
           0.8, 1.7, 2.06, 0.15, 1.35, 2.2, 0.5, 1.85, 1.0, 2.3, 0.0, 1.5, 2.16, 0.25, 1.2, 2.4, 0.6, 1.95, 2.5,
           0.05, 2.2, 2.6, 0.35, 2.35, 2.7, 0.1, 2.5, 2.67, 0.2, 2.8, 2.45, 0.0, 2.75,
           2.8, 2.6, 2.93, 3.0, 2.85, 3.05, 2.95, 3.1, 3.05, 3.34, 3.0, 3.19, 2.9, 3.38, 3.1, 2.85, 3.05, 2.75,
           3.0, 2.8, 2.9, 3.3, 3.61, 3.5, 3.61, 3.41, 3.61, 3.21, 3.6, 3.75, 3.72, 3.6, 3.85, 3.8, 3.5, 3.45,
           0.2, 0.6, 0.1, 0.9, 0.45, 0.3, 0.7, 0.05, 1.1, 0.5, 0.25, 0.95, 0.6, 1.2, 0.35, 0.0, 1.05, 0.75, 1.35,
           0.25, 1.55, 0.55, 1.0, 1.5, 0.2, 1.2, 1.65, 0.45, 0.85, 1.8, 1.3, 0.05, 1.6, 0.45, 1.95, 1.5, 0.7, 2.1,
           1.7, 0.2, 2.0, 2.25, 1.8, 2.45, 2.1, 2.3, 2.6, 2.65, 2.6, 2.7]

# -- rotation around axis-z --
rz_pos0 = [0.2, 0.05, 0.3, 0.12, 0.0, 0.25, 0.08, 0.18, 0.02, 0.28, 0.1, 0.35, 0.443, 0.15, 0.0, 0.22, 0.06,
           0.3, 0.12, 0.0, 0.466, 0.2, 0.04, 0.26, 0.14, 0.523, 0.02, 0.18, 0.367, 0.08, 0.25, 0.0, 0.362, 0.12,
           0.21, 0.05, 0.41, 0.3, 0.495, 0.0, 0.16, 0.24, 0.06, 0.29, 0.0, 0.13, 0.2, 0.313, 0.04, 0.1, 0.0, 0.22,
           0.383, 0.07, 0.15, 0.0, 0.26, 0.11, 0.323, 0.432, 0.44, 0.03, 0.18, 0.08, 0.0, 0.115, 0.25, 0.02,
           0.10, 0.02, 0.312, 0.06, 0.0, 0.15, 0.213, 0.04, 0.11, 0.001, 0.08, 0.02, 0.13, 0.05, 0.15, 0.0, 0.09,
           0.173, 0.03, 0.12, 0.235, 0.06, 0.01, 0.584, 0.333, 0.14, 0.04, 0.10, 0.27, 0.0, 0.07, 0.12, 0.081,
           0.31, 0.02, 0.17, 0.018, 0.54, 0.144, 0.405, 0.278, 0.321, 0.075, 0.349, 0.047,
           0.11, 0.353, 0.03, 0.426, 0.144, 0.186, 0.053, 0.10, 0.007, 0.451, 0.44, 0.178, 0.222, 0.072, 0.047,
           0.001, 0.058, 0.12, 0.177, 0.09, 0.35, 0.061, 0.049, 0.06, 0.035, 0.216, 0.003, 0.198, 0.267, 0.219,
           0.097,
           0.1, 0.2, 0.05, 0.25, 0.12, 0.32, 0.08, 0.18, 0.26, 0.1, 0.34, 0.05, 0.2, 0.28, 0.12, 0.0, 0.26, 0.08,
           0.32, 0.15, 0.22, 0.06, 0.18, 0.3, 0.1, 0.24, 0.02, 0.16, 0.28, 0.08, 0.2, 0.05, 0.14, 0.26, 0.1, 0.0,
           0.2, 0.06, 0.24, 0.12, 0.04, 0.18, 0.0, 0.1, 0.05, 0.15, 0.0, 0.06, 0.2, 0.03]
rz_pos1 = [0.2, 0.05, 0.3, 0.12, 0.4, 0.0, 0.25, 0.08, 0.35, 0.18, 0.02, 0.415, 0.22, 0.1, 0.3, 0.498, 0.15,
           0.447, 0.05, 0.26, 0.12, 0.546, 0.2, 0.0, 0.33, 0.1, 0.19, 0.0, 0.533, 0.526, 0.586, 0.25, 0.06, 0.3,
           0.14, 0.0, 0.22, 0.09, 0.03,
           0.15, 0.3, 0.05, 0.2, 0.1, 0.25, 0.434, 0.12, 0.22, 0.04, 0.18, 0.31, 0.304, 0.1, 0.02, 0.2, 0.06,
           0.155, 0.195, 0.647, 0.512, 0.13, 0.05, 0.712, 0.09, 0.12, 0.238, 0.087, 0.167, 0.02, 0.184, 0.013,
           0.112, 0.05,
           0.3, 0.1, 0.22, 0.35, 0.05, 0.18, 0.3, 0.08, 0.25, 0.0, 0.32, 0.12, 0.22, 0.05, 0.28, 0.1, 0.18, 0.3,
           0.02, 0.25, 0.1, 0.2, 0.04, 0.15, 0.28]
rz_pos2 = [0.1, 0.3, 0.02, 0.2, 0.38, 0.08, 0.25, 0.45, 0.15, 0.533, 0.05, 0.32, 0.18, 0.0, 0.4, 0.841, 0.12,
           0.28, 0.06, 0.22, 0.35, 0.02, 0.487, 0.14, 0.592, 0.08, 0.26, 0.0, 0.17,
           0.1, 0.2, 0.03, 0.25, 0.32, 0.12, 0.0, 0.258, 0.17, 0.06, 0.2, 0.1, 0.03, 0.12, 0.161, 0.05, 0.554,
           0.25, 0.15, 0.02, 0.28, 0.24, 0.007, 0.1, 0.215,
           0.15, 0.3, 0.05, 0.22, 0.4, 0.1, 0.3, 0.02, 0.2, 0.38, 0.12, 0.28, 0.06, 0.4, 0.18, 0.3, 0.0, 0.12,
           0.25, 0.05]
rz_pos3 = [0.2, 0.05, 0.35, 0.12, 0.28, 0.0, 0.4, 0.18, 0.3, 0.08, 0.22, 0.42, 0.02, 0.15, 0.33, 0.1, 0.25,
           0.45, 0.04, 0.467, 0.2, 0.489, 0.12, 0.3, 0.0, 0.47, 0.18, 0.35, 0.06, 0.25, 0.4, 0.1, 0.3, 0.02, 0.2,
           0.38, 0.12, 0.28, 0.05, 0.22,
           0.3, 0.15, 0.22, 0.544, 0.474, 0.327, 0.1, 0.2, 0.504, 0.497, 0.173, 0.06, 0.12, 0.0, 0.104, 0.2,
           0.184, 0.31, 0.352, 0.153, 0.19, 0.04,
           0.38, 0.22, 0.05, 0.45, 0.14, 0.3, 0.0, 0.38, 0.2, 0.05, 0.34, 0.15, 0.28, 0.38, 0.05, 0.25, 0.12, 0.4,
           0.0, 0.3, 0.15, 0.35, 0.08, 0.3, 0.18]
rz_pos4 = [0.1, 0.25, 0.02, 0.18, 0.35, 0.08, 0.28, 0.0, 0.15, 0.432, 0.22, 0.05, 0.32, 0.12, 0.4, 0.0, 0.26,
           0.18, 0.36, 0.07, 0.3, 0.43, 0.14, 0.0, 0.22, 0.38, 0.1, 0.3, 0.02, 0.45, 0.2, 0.34, 0.08, 0.49, 0.26,
           0.0, 0.4, 0.566, 0.15, 0.53, 0.3, 0.05, 0.42, 0.2, 0.0, 0.33, 0.12, 0.25, 0.04, 0.18, 0.3, 0.08, 0.22,
           0.0, 0.15, 0.27, 0.1, 0.03, 0.2, 0.12, 0.25, 0.0, 0.16, 0.08, 0.22, 0.04, 0.14, 0.0, 0.1, 0.52,
           0.1, 0.2, 0.05, 0.15, 0.0, 0.25, 0.554, 0.721, 0.1, 0.18, 0.03, 0.22, 0.697, 0.432, 0.363, 0.575,
           0.749, 0.08, 0.15, 0.426, 0.05, 0.12, 0.02, 0.1, 0.06, 0.14, 0.0, 0.08, 0.03, 0.11, 0.05, 0.0, 0.09,
           0.04, 0.272, 0.12,
           0.3, 0.12, 0.22, 0.4, 0.05, 0.35, 0.16, 0.26, 0.06, 0.38, 0.18, 0.45, 0.24, 0.08, 0.34, 0.14, 0.44,
           0.2, 0.02, 0.36, 0.12, 0.25, 0.46, 0.06, 0.18, 0.4, 0.1, 0.28, 0.48, 0.14, 0.36, 0.22, 0.06, 0.44, 0.1,
           0.24, 0.36, 0.14, 0.06, 0.3, 0.2, 0.12, 0.22, 0.06, 0.3, 0.14, 0.1, 0.2, 0.06, 0.15]

panel_labels = ["Translation along axis-x", "Translation along axis-y", "Translation along axis-z",
                "Rotation around axis-x", "Rotation around axis-y", "Rotation around axis-z"]
pos_labels = ["pos: 0", "pos: 1", "pos: 2", "pos: 3", "pos: 4"]

panel_values = [
    [tx_pos0, tx_pos1, tx_pos2, tx_pos3, tx_pos4],
    [ty_pos0, ty_pos1, ty_pos2, ty_pos3, ty_pos4],
    [tz_pos0, tz_pos1, tz_pos2, tz_pos3, tz_pos4],
    [rx_pos0, rx_pos1, rx_pos2, rx_pos3, rx_pos4],
    [ry_pos0, ry_pos1, ry_pos2, ry_pos3, ry_pos4],
    [rz_pos0, rz_pos1, rz_pos2, rz_pos3, rz_pos4],
]
variances = [var_pos0, var_pos1, var_pos2, var_pos3, var_pos4]

# -- layout (pixels of the 1819x907 image) --
W, H = 1819, 907
boxes = [(109, 28, 597, 379), (724, 29, 1204, 376), (1318, 32, 1792, 373),
         (100, 425, 600, 784), (722, 428, 1212, 783), (1317, 430, 1793, 776)]
x_right = 0.011172
ylims = [(-0.008, 0.1675), (-0.006, 0.1316), (-0.0735, 1.6),
         (-0.069, 1.574), (-0.2, 4.097), (-0.055, 1.13)]
label_pos = [(37, 207), (653, 205), (1259, 205), (36, 606), (649, 606), (1255, 606)]
legend_loc = ["upper right", "upper right", "upper right", "upper right", "lower right", "upper right"]
colors = ["#1f77b4", "#ff7f0e", "#2ca02c", "#d62728", "#9467bd"]

serif = ["Liberation Serif", "DejaVu Serif"]

fig = plt.figure(figsize=(W / 100, H / 100), dpi=100)

for i in range(6):
    l, t, r, b = boxes[i]
    ax = fig.add_axes([l / W, 1 - b / H, (r - l) / W, (b - t) / H])
    for p in range(5):
        ax.scatter(variances[p], panel_values[i][p], s=56, c=colors[p],
                   linewidths=0, label=pos_labels[p])
    ax.set_xlim(0.0100, x_right)
    ax.set_ylim(*ylims[i])
    ax.xaxis.set_major_locator(MultipleLocator(0.0002))
    ax.xaxis.set_major_formatter(FormatStrFormatter("%.4f"))
    ax.tick_params(labelsize=9, colors="#222222")
    for sp in ax.spines.values():
        sp.set_color("#333333")
    ax.legend(loc=legend_loc[i], fontsize=11)
    lx, ly = label_pos[i]
    fig.text(lx / W, 1 - ly / H, panel_labels[i], rotation=90, ha="center", va="center",
             fontsize=26.5, family=serif, style="italic")

fig.text(899 / W, 1 - 863 / H, "Averaged intrinsic variance", ha="center", va="center",
         fontsize=27, family=serif, style="italic")

fig.savefig("out.png", dpi=100)
